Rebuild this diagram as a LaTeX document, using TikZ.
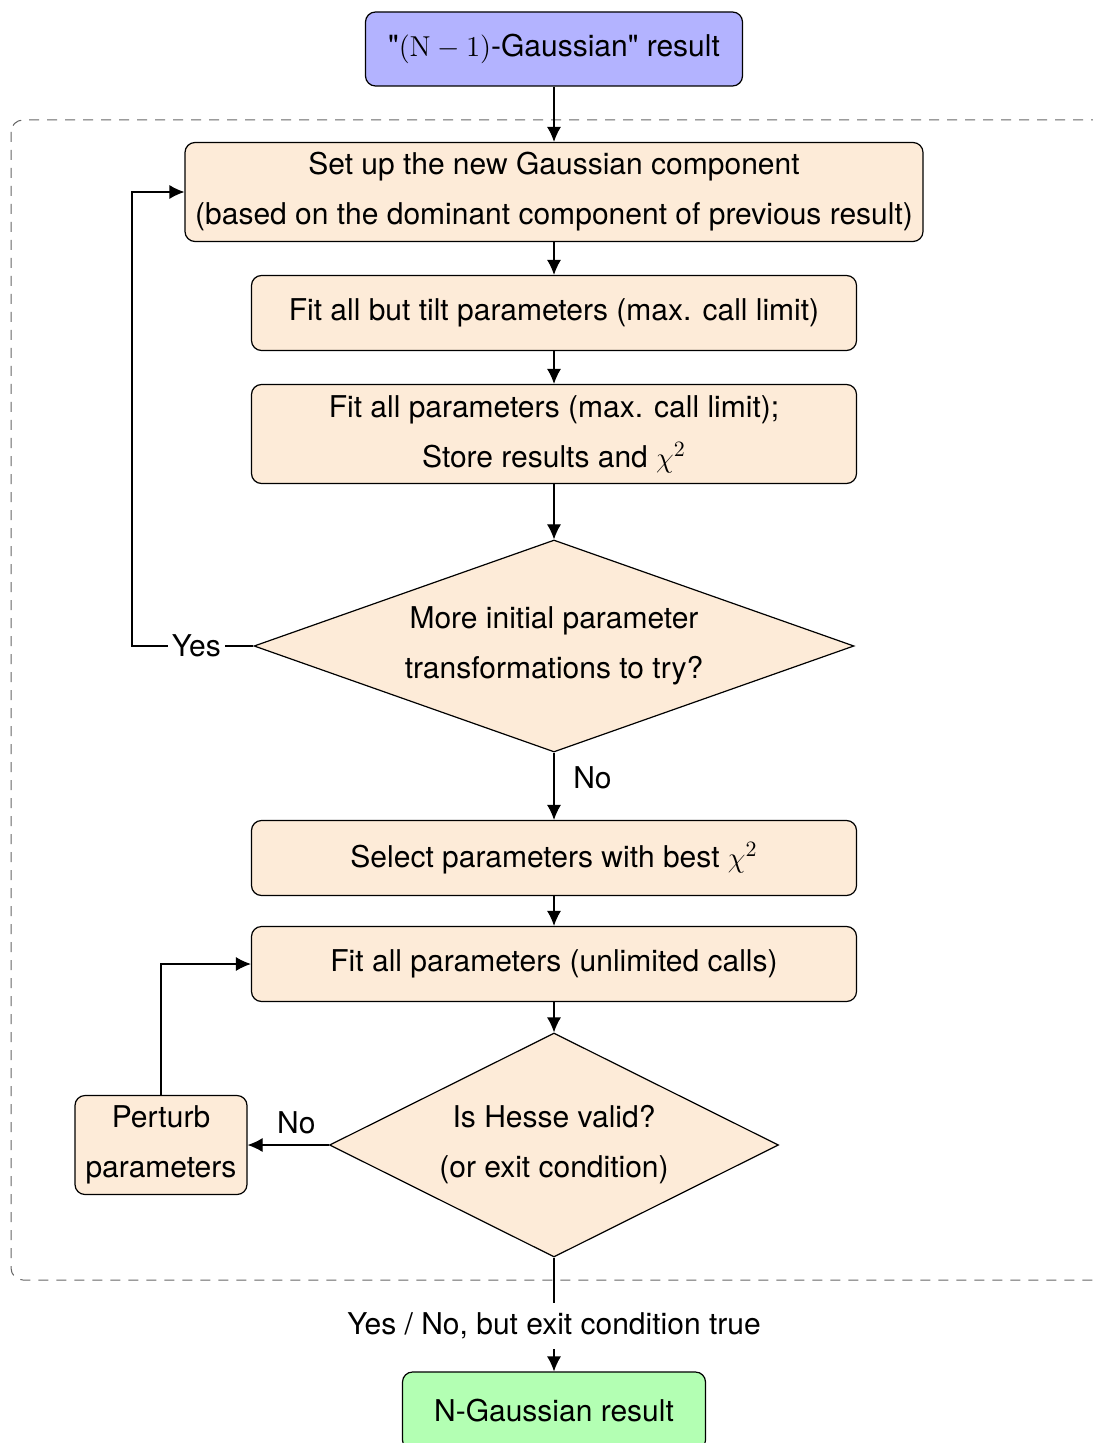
\documentclass[tikz,border=0pt]{standalone}
\usepackage[no-math]{fontspec}
\setmainfont{TeX Gyre Heros}[Ligatures=TeXOff]
\usetikzlibrary{shapes.geometric,arrows.meta}
\definecolor{stepfill}{RGB}{253,235,216}
\definecolor{startfill}{RGB}{179,179,255}
\definecolor{endfill}{RGB}{179,255,179}
\begin{document}
\begin{tikzpicture}[x=0.5pt,y=-0.5pt,
  font=\fontsize{15}{25}\selectfont,
  stepbox/.style={draw=black,line width=0.6pt,rounded corners=5pt,fill=stepfill,
    align=center,inner sep=0pt},
  decision/.style={draw=black,line width=0.6pt,shape=diamond,fill=stepfill,
    align=center,inner sep=0pt},
  flow/.style={line width=0.6pt,draw=black,-{Latex[length=7.5pt,width=7pt]}},
  lbl/.style={fill=white,inner sep=2pt}]
\useasboundingbox (0,0) rectangle (1092,1443);

% iteration frame
\draw[black!60,line width=0.5pt,dash pattern=on 5pt off 4pt,rounded corners=6pt]
  (11,120) rectangle (1120,1280);

% process steps
\node[stepbox,fill=startfill,minimum width=188.5pt,minimum height=37pt] (start) at (554,49)
  {"$(\mathrm{N}-1)$-Gaussian" result};
\node[stepbox,minimum width=369pt,minimum height=49.5pt] (setup) at (554,192)
  {Set up the new Gaussian component\\(based on the dominant component of previous result)};
\node[stepbox,minimum width=302.5pt,minimum height=37.5pt] (fitnotilt) at (554,313)
  {Fit all but tilt parameters (max. call limit)};
\node[stepbox,minimum width=302.5pt,minimum height=49.5pt] (fitall) at (554,434)
  {Fit all parameters (max. call limit);\\Store results and $\chi^2$};
\node[decision,aspect=2.83,minimum width=300pt,minimum height=106pt] (more) at (554,646)
  {More initial parameter\\transformations to try?};
\node[stepbox,minimum width=302.5pt,minimum height=37.5pt] (select) at (554,858)
  {Select parameters with best $\chi^2$};
\node[stepbox,minimum width=302.5pt,minimum height=37.5pt] (fitfree) at (554,964)
  {Fit all parameters (unlimited calls)};
\node[decision,aspect=2,minimum width=224.5pt,minimum height=112pt] (hesse) at (554,1145)
  {Is Hesse valid?\\(or exit condition)};
\node[stepbox,minimum width=86pt,minimum height=49.5pt] (perturb) at (161,1145)
  {Perturb\\parameters};
\node[stepbox,fill=endfill,minimum width=151.5pt,minimum height=39pt] (final) at (554,1411)
  {N-Gaussian result};

% loop-back columns
\coordinate (yescol) at (132,646);
\coordinate (perturbcol) at (161,964);

% connectors
\draw[flow] (start) -- (setup);
\draw[flow] (setup) -- (fitnotilt);
\draw[flow] (fitnotilt) -- (fitall);
\draw[flow] (fitall) -- (more);
\draw[flow] (more.west) -- node[lbl,pos=0.47]{Yes} (yescol) |- (setup.west);
\draw[flow] (more) -- node[pos=0.38,right=6pt]{No} (select);
\draw[flow] (select) -- (fitfree);
\draw[flow] (fitfree) -- (hesse);
\draw[flow] (hesse.west) -- node[above=2pt,pos=0.40]{No} (perturb.east);
\draw[flow] (perturb.north) -- (perturbcol) -- (fitfree.west);
\draw[flow] (hesse.south) -- node[lbl,pos=0.6,inner xsep=4pt,inner ysep=5pt]{Yes / No, but exit condition true} (final.north);
\end{tikzpicture}
\end{document}
